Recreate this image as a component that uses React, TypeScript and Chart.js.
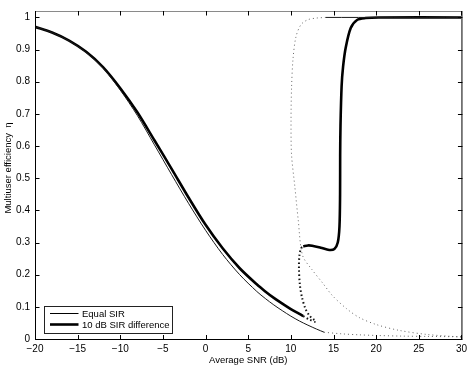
import React, { useEffect, useRef } from 'react';
import { Chart, registerables } from 'chart.js';

Chart.register(...registerables);

const xTickValues = [-20, -15, -10, -5, 0, 5, 10, 15, 20, 25, 30];
const xTickLabels = ['\u221220', '\u221215', '\u221210', '\u22125', '0', '5', '10', '15', '20', '25', '30'];
const yTickValues = [0, 0.1, 0.2, 0.3, 0.4, 0.5, 0.6, 0.7, 0.8, 0.9, 1];
const yTickLabels = ['0', '0.1', '0.2', '0.3', '0.4', '0.5', '0.6', '0.7', '0.8', '0.9', '1'];

const seriesNames = ['Equal SIR', '10 dB SIR difference'];

// Equal SIR — stable lower branch (solid)
const eqLowerX = [-20, -18, -16, -14, -12, -10, -8, -6, -4, -2, 0, 2, 4, 6, 7, 8, 9, 10, 11, 12, 13, 13.9];
const eqLowerY = [0.971, 0.953, 0.927, 0.891, 0.842, 0.774, 0.695, 0.604, 0.512, 0.422, 0.338, 0.263, 0.2, 0.148, 0.126, 0.106, 0.088, 0.071, 0.056, 0.043, 0.031, 0.021];
// Equal SIR — stable upper branch (solid)
const eqUpperX = [14.1, 30];
const eqUpperY = [1, 1];
// Equal SIR — lower branch continuation (dotted)
const eqLowerTailX = [13.9, 16, 18, 20, 23, 26, 30];
const eqLowerTailY = [0.021, 0.016, 0.013, 0.011, 0.009, 0.008, 0.007];
// Equal SIR — other solution branch (dotted)
const eqOtherX = [14.1, 13, 12, 11.2, 10.6, 10.25, 10.08, 10.02, 10.08, 10.47, 10.86, 11.37, 12.5, 13.7, 14.87, 16.5, 18, 20, 22.67, 26, 30];
const eqOtherY = [1, 0.998, 0.993, 0.978, 0.94, 0.87, 0.78, 0.68, 0.573, 0.473, 0.371, 0.26, 0.215, 0.175, 0.135, 0.095, 0.067, 0.045, 0.027, 0.014, 0.006];

// 10 dB SIR difference — lower branch (solid)
const diffLowerX = [-20, -18, -16, -14, -12, -10, -8, -6, -4, -2, 0, 2, 4, 6, 7, 8, 9, 10, 11, 11.45];
const diffLowerY = [0.971, 0.953, 0.928, 0.893, 0.845, 0.78, 0.705, 0.618, 0.53, 0.44, 0.355, 0.282, 0.22, 0.17, 0.148, 0.128, 0.11, 0.093, 0.078, 0.071];
// 10 dB SIR difference — upper branch (solid)
const diffUpperX = [11.45, 12.0, 12.5, 13.5, 14.5, 15.1, 15.5, 15.7, 15.77, 15.78, 15.82, 15.95, 16.12, 16.44, 17.02, 17.76, 18.78, 20.3, 30];
const diffUpperY = [0.288, 0.291, 0.29, 0.284, 0.277, 0.28, 0.3, 0.35, 0.45, 0.57, 0.664, 0.786, 0.846, 0.907, 0.967, 0.992, 0.998, 1, 1];
// 10 dB SIR difference — connecting branch (dotted)
const diffMidX = [11.45, 12.2, 12.9, 12.7, 12.2, 11.7, 11.3, 11.05, 10.95, 11.0, 11.2, 11.45];
const diffMidY = [0.071, 0.06, 0.053, 0.06, 0.072, 0.095, 0.13, 0.17, 0.22, 0.26, 0.282, 0.288];

const FONT = '"Liberation Sans", Arial, Helvetica, sans-serif';

function pts(xs: number[], ys: number[]) {
  return xs.map((x, i) => ({ x, y: ys[i] }));
}

const framePlugin = {
  id: 'matlabFrame',
  afterDraw(chart: any) {
    const { ctx, chartArea } = chart;
    const { left, right, top, bottom } = chartArea;
    const xs = chart.scales.x;
    const ys = chart.scales.y;
    ctx.save();
    ctx.lineWidth = 1;
    ctx.strokeStyle = '#000';
    ctx.beginPath();
    ctx.moveTo(left + 0.5, top);
    ctx.lineTo(left + 0.5, bottom + 0.5);
    ctx.lineTo(right + 0.5, bottom + 0.5);
    ctx.lineTo(right + 0.5, top);
    ctx.stroke();
    ctx.strokeStyle = '#8a8a8a';
    ctx.beginPath();
    ctx.moveTo(left, top + 0.5);
    ctx.lineTo(right + 1, top + 0.5);
    ctx.stroke();
    const tl = 4;
    ctx.strokeStyle = '#000';
    ctx.beginPath();
    xTickValues.forEach((v) => {
      const px = Math.round(xs.getPixelForValue(v)) + 0.5;
      ctx.moveTo(px, bottom + 0.5);
      ctx.lineTo(px, bottom - tl);
      ctx.moveTo(px, top);
      ctx.lineTo(px, top + tl + 0.5);
    });
    yTickValues.forEach((v) => {
      const py = Math.round(ys.getPixelForValue(v)) + 0.5;
      ctx.moveTo(left, py);
      ctx.lineTo(left + tl + 0.5, py);
      ctx.moveTo(right + 1, py);
      ctx.lineTo(right - tl + 0.5, py);
    });
    ctx.stroke();

    ctx.fillStyle = '#000';
    ctx.font = `9.5px ${FONT}`;
    ctx.textAlign = 'center';
    ctx.textBaseline = 'middle';
    ctx.fillText('Average SNR (dB)', (left + right) / 2, 360);
    ctx.save();
    ctx.translate(8.5, 168);
    ctx.rotate(-Math.PI / 2);
    ctx.fillText('Multiuser efficiency  \u03b7', 0, 0);
    ctx.restore();

    const lx = 44, ly = 306, lw = 128, lh = 27;
    ctx.fillStyle = '#fff';
    ctx.fillRect(lx, ly, lw, lh);
    ctx.strokeStyle = '#222';
    ctx.lineWidth = 1;
    ctx.strokeRect(lx + 0.5, ly + 0.5, lw, lh);
    const rows = [313.5, 324.5];
    const widths = [1, 2.6];
    rows.forEach((ry, i) => {
      ctx.strokeStyle = '#000';
      ctx.lineWidth = widths[i];
      ctx.beginPath();
      ctx.moveTo(50, ry);
      ctx.lineTo(78.5, ry);
      ctx.stroke();
      ctx.fillStyle = '#000';
      ctx.textAlign = 'left';
      ctx.textBaseline = 'middle';
      ctx.font = `9.5px ${FONT}`;
      ctx.fillText(seriesNames[i], 82, ry + 0.5);
    });
    ctx.restore();
  },
};

export default function App() {
  const ref = useRef<HTMLCanvasElement | null>(null);
  useEffect(() => {
    if (!ref.current) return;
    const thin = { borderColor: '#1a1a1a', borderWidth: 1, pointRadius: 0, tension: 0.3, fill: false };
    const thinDot = { borderColor: '#666', borderWidth: 1, borderDash: [1, 3], pointRadius: 0, tension: 0.3, fill: false };
    const thick = { borderColor: '#000', borderWidth: 2.6, pointRadius: 0, tension: 0.3, fill: false };
    const thickDot = { borderColor: '#111', borderWidth: 2, borderDash: [1.5, 2.5], pointRadius: 0, tension: 0.3, fill: false };
    const chart = new Chart(ref.current, {
      type: 'line',
      data: {
        datasets: [
          { label: seriesNames[0], data: pts(eqLowerX, eqLowerY), ...thin },
          { label: seriesNames[0] + ' upper', data: pts(eqUpperX, eqUpperY), ...thin },
          { label: seriesNames[0] + ' tail', data: pts(eqLowerTailX, eqLowerTailY), ...thinDot },
          { label: seriesNames[0] + ' other', data: pts(eqOtherX, eqOtherY), ...thinDot },
          { label: seriesNames[1] + ' mid', data: pts(diffMidX, diffMidY), ...thickDot },
          { label: seriesNames[1], data: pts(diffLowerX, diffLowerY), ...thick },
          { label: seriesNames[1] + ' upper', data: pts(diffUpperX, diffUpperY), ...thick },
        ] as any,
      },
      options: {
        responsive: false,
        animation: false,
        events: [],
        layout: { padding: { top: 2.5, right: 8.3, left: 0, bottom: 0 } },
        plugins: { legend: { display: false }, tooltip: { enabled: false } },
        scales: {
          x: {
            type: 'linear',
            min: -20,
            max: 30,
            grid: { display: false, drawTicks: false },
            border: { display: false },
            afterBuildTicks: (s: any) => { s.ticks = xTickValues.map((v) => ({ value: v })); },
            afterFit: (s: any) => { s.height = 28; },
            ticks: {
              color: '#000',
              padding: 4,
              maxRotation: 0,
              autoSkip: false,
              font: { family: FONT, size: 10 },
              callback: (v: any) => xTickLabels[xTickValues.indexOf(Number(v))] ?? '',
            },
          },
          y: {
            type: 'linear',
            min: 0,
            max: 1.02,
            grid: { display: false, drawTicks: false },
            border: { display: false },
            afterBuildTicks: (s: any) => { s.ticks = yTickValues.map((v) => ({ value: v })); },
            afterFit: (s: any) => { s.width = 35; },
            ticks: {
              color: '#000',
              padding: 5,
              autoSkip: false,
              font: { family: FONT, size: 10 },
              callback: (v: any) => {
                const i = yTickValues.findIndex((t) => Math.abs(t - Number(v)) < 1e-6);
                return i >= 0 ? yTickLabels[i] : '';
              },
            },
          },
        },
      } as any,
      plugins: [framePlugin],
    });
    return () => chart.destroy();
  }, []);
  return (
    <div style={{ position: 'fixed', left: 0, top: 0, width: 471, height: 367, background: '#fff' }}>
      <canvas ref={ref} width={471} height={367} style={{ display: 'block', width: 471, height: 367 }} />
    </div>
  );
}
